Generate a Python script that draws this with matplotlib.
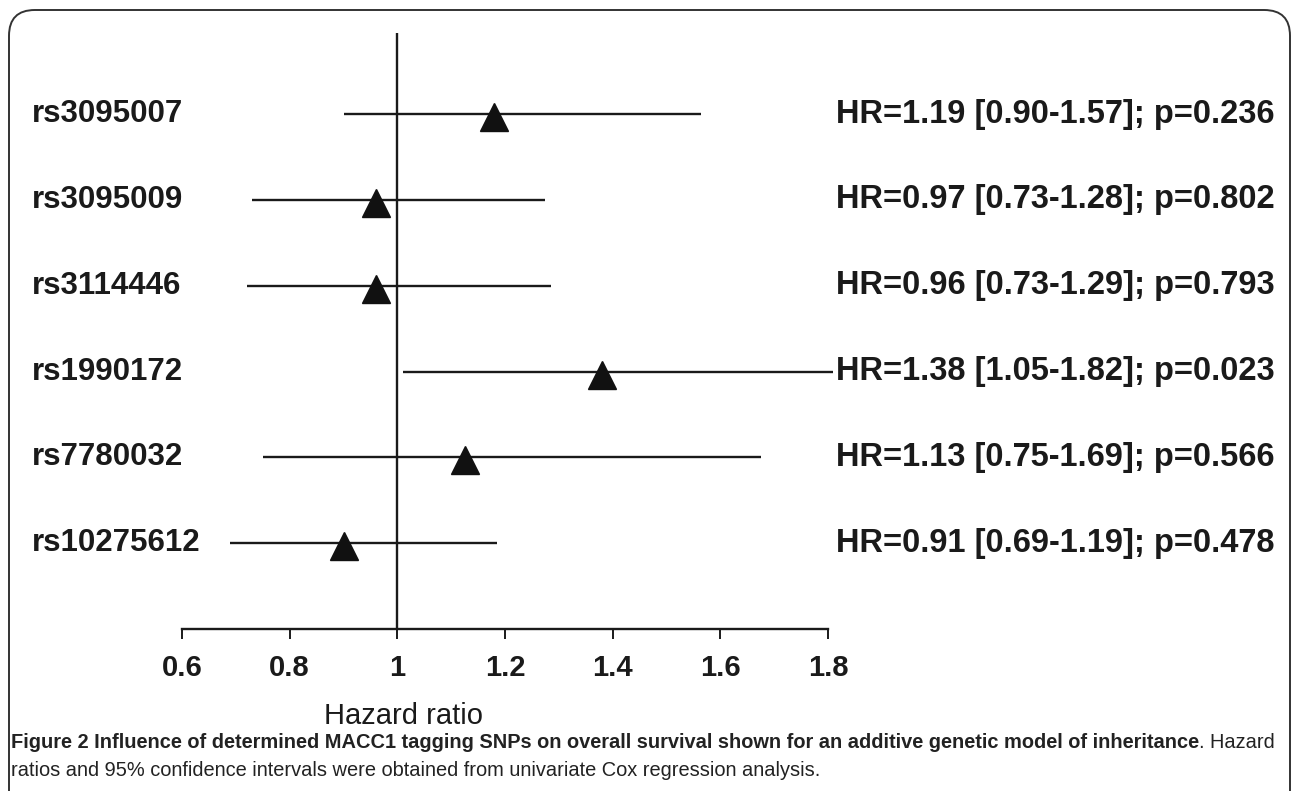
import matplotlib.pyplot as plt
from matplotlib.patches import FancyBboxPatch
from matplotlib import transforms

snps = ["rs3095007", "rs3095009", "rs3114446", "rs1990172", "rs7780032", "rs10275612"]
hr = [1.18, 0.96, 0.96, 1.38, 1.125, 0.90]
ci_lo = [0.90, 0.73, 0.72, 1.01, 0.75, 0.69]
ci_hi = [1.565, 1.275, 1.285, 1.81, 1.675, 1.185]
hr_text = ["HR=1.19 [0.90-1.57]; p=0.236",
           "HR=0.97 [0.73-1.28]; p=0.802",
           "HR=0.96 [0.73-1.29]; p=0.793",
           "HR=1.38 [1.05-1.82]; p=0.023",
           "HR=1.13 [0.75-1.69]; p=0.566",
           "HR=0.91 [0.69-1.19]; p=0.478"]
xticks = [0.6, 0.8, 1.0, 1.2, 1.4, 1.6, 1.8]
xticklabels = ["0.6", "0.8", "1", "1.2", "1.4", "1.6", "1.8"]

W, H = 1292, 791
fig = plt.figure(figsize=(W / 100, H / 100), dpi=100)
ax = fig.add_axes([182 / W, 1 - 629 / H, 646 / W, (629 - 33) / H])
font = ["Liberation Sans", "DejaVu Sans"]

ypos = list(range(len(snps), 0, -1))
ax.hlines(ypos, ci_lo, ci_hi, color="#1a1a1a", lw=1.7, clip_on=False)
# triangles sit a few pixels below the CI line
shift = ax.transData + transforms.ScaledTranslation(0, -3 / 100, fig.dpi_scale_trans)
ax.plot(hr, ypos, "^", color="#111111", ms=20, clip_on=False, transform=shift)
ax.axvline(1.0, color="#1a1a1a", lw=1.7)

ax.set_xlim(0.6, 1.8)
ax.set_ylim(0, 6.944)
for s in ["left", "right", "top"]:
    ax.spines[s].set_visible(False)
ax.spines["bottom"].set_linewidth(1.7)
ax.spines["bottom"].set_color("#1a1a1a")
ax.set_yticks([])
ax.set_xticks(xticks)
ax.set_xticklabels(xticklabels, fontsize=21, fontweight="bold", family=font)
ax.tick_params(axis="x", length=7, width=1.4, pad=11, color="#1a1a1a", labelcolor="#1a1a1a")

trans = transforms.blended_transform_factory(fig.transFigure, ax.transData)
for y, name, t in zip(ypos, snps, hr_text):
    ax.text(32 / W, y, name, transform=trans, ha="left", va="center",
            fontsize=22.5, fontweight="bold", family=font, color="#1a1a1a")
    ax.text(836 / W, y, t, transform=trans, ha="left", va="center",
            fontsize=23.5, fontweight="bold", family=font, color="#1a1a1a")

fig.text(404 / W, 1 - 716 / H, "Hazard ratio", ha="center", va="center",
         fontsize=21, family=font, color="#1a1a1a")

# caption
bold_part = "Figure 2 Influence of determined MACC1 tagging SNPs on overall survival shown for an additive genetic model of inheritance"
t1 = fig.text(11 / W, 1 - 742 / H, bold_part, ha="left", va="center",
              fontsize=14.4, fontweight="bold", family=font, color="#222222")
fig.canvas.draw()
bb = t1.get_window_extent(fig.canvas.get_renderer())
fig.text(bb.x1 / W, 1 - 742 / H, ". Hazard", ha="left", va="center",
         fontsize=14.4, family=font, color="#222222")
fig.text(11 / W, 1 - 771 / H,
         "ratios and 95% confidence intervals were obtained from univariate Cox regression analysis.",
         ha="left", va="center", fontsize=14.4, family=font, color="#222222")

# rounded frame, open at the bottom
frame = FancyBboxPatch((9 / W, -0.05), (1290 - 9) / W, 1.05 - 10 / H,
                       boxstyle="round,pad=0,rounding_size=0.02",
                       transform=fig.transFigure, fill=False,
                       ec="#333333", lw=1.4, mutation_aspect=W / H)
fig.patches.append(frame)

fig.savefig("out.png", dpi=100)
